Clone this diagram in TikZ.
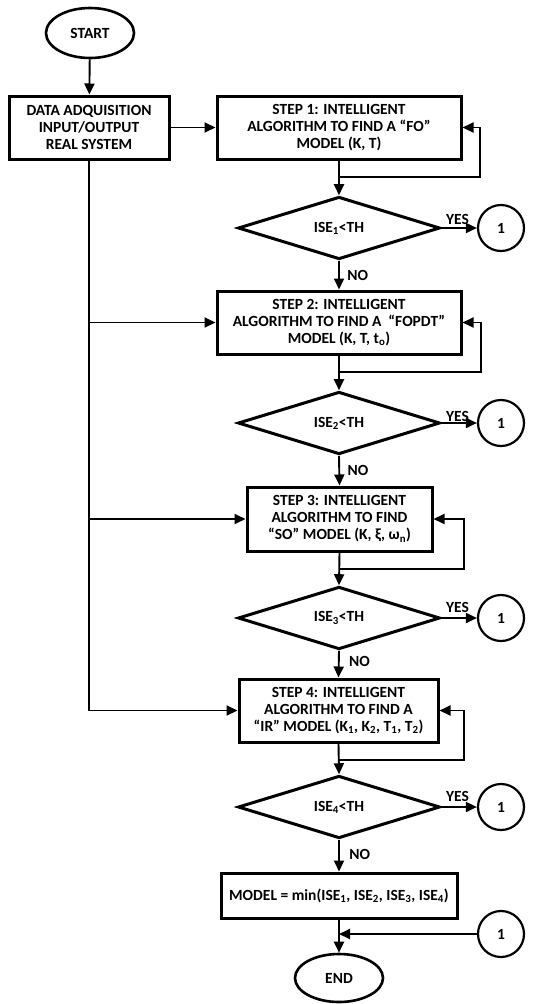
\documentclass[tikz,border=0pt]{standalone}
\usepackage{fontspec}
\setmainfont{Carlito}
\usetikzlibrary{shapes.geometric,arrows.meta,positioning}

\begin{document}
\begin{tikzpicture}
  [
    x=1pt, y=1pt,
    font=\fontsize{15.5}{17}\selectfont\bfseries,
    terminalnode/.style={ellipse, draw, line width=2.6pt, minimum width=88pt, minimum height=50pt, inner sep=0pt},
    rectanglenode_step/.style={rectangle, draw, line width=3pt, minimum height=63pt, align=center, inner sep=2pt},
    diamondnode_check/.style={diamond, draw, line width=3pt, minimum width=202pt, minimum height=62pt, inner sep=0pt},
    roundnode_link/.style={circle, draw, line width=2.2pt, minimum size=46pt, inner sep=0pt},
    conn/.style={line width=1.9pt, -{Triangle[length=11pt,width=10pt]}},
  ]
  \useasboundingbox (0,0) rectangle (554,-1004);

  \node[terminalnode] (start) at (90,-33) {START};
  \node[rectanglenode_step, minimum width=160pt] (data) at (89,-127.5) {DATA ADQUISITION\\INPUT/OUTPUT\\REAL SYSTEM};

  \node[rectanglenode_step, minimum width=244pt] (step1) at (339,-127.5) {STEP 1: INTELLIGENT\\ALGORITHM TO FIND A “FO”\\MODEL (K, T)};
  \node[diamondnode_check] (check1) at (339,-228) {ISE\textsubscript{1}<TH};
  \node[roundnode_link] (link1) at (501,-228) {1};

  \node[rectanglenode_step, minimum width=244pt] (step2) at (339,-322.5) {STEP 2: INTELLIGENT\\ALGORITHM TO FIND A \ “FOPDT”\\MODEL (K, T, t\textsubscript{o})};
  \node[diamondnode_check] (check2) at (339,-423) {ISE\textsubscript{2}<TH};
  \node[roundnode_link] (link2) at (501,-423) {1};

  \node[rectanglenode_step, minimum width=185pt, minimum height=64pt] (step3) at (339.5,-519) {STEP 3: INTELLIGENT\\ALGORITHM TO FIND\\“SO” MODEL (K, ξ, ω\textsubscript{n})};
  \node[diamondnode_check] (check3) at (339,-618) {ISE\textsubscript{3}<TH};
  \node[roundnode_link] (link3) at (501,-618) {1};

  \node[rectanglenode_step, minimum width=199pt] (step4) at (338.5,-710.5) {STEP 4: INTELLIGENT\\ALGORITHM TO FIND A\\“IR” MODEL (K\textsubscript{1}, K\textsubscript{2}, T\textsubscript{1}, T\textsubscript{2})};
  \node[diamondnode_check] (check4) at (339,-807) {ISE\textsubscript{4}<TH};
  \node[roundnode_link] (link4) at (501,-807) {1};

  \node[rectanglenode_step, minimum width=236pt, minimum height=45pt] (model) at (339,-895.5) {MODEL = min(ISE\textsubscript{1}, ISE\textsubscript{2}, ISE\textsubscript{3}, ISE\textsubscript{4})};
  \node[roundnode_link] (link5) at (501,-934) {1};
  \node[terminalnode, minimum height=48pt] (end) at (339,-978) {END};

  % loop corners
  \coordinate (loop1) at (480,-177);
  \coordinate (loop2) at (481,-372);
  \coordinate (loop3) at (464,-569);
  \coordinate (loop4) at (464,-760);

  \draw[conn] (start) -- (data);
  \draw[conn] (data) -- (step1);
  \draw[conn] (data.south) |- (step4.west);
  \draw[conn] (data.south |- step2.west) -- (step2.west);
  \draw[conn] (data.south |- step3.west) -- (step3.west);

  \draw[conn] (step1.south) -- (check1.north);
  \draw[conn] (step1.south |- loop1) -- (loop1) |- (step1.east);
  \draw[conn] (check1.east) -- node[above, pos=0.45, yshift=-1pt] {YES} (link1);
  \draw[conn] (check1.south) -- node[right, xshift=4pt] {NO} (step2.north);

  \draw[conn] (step2.south) -- (check2.north);
  \draw[conn] (step2.south |- loop2) -- (loop2) |- (step2.east);
  \draw[conn] (check2.east) -- node[above, pos=0.45, yshift=-3pt] {YES} (link2);
  \draw[conn] (check2.south) -- node[right, xshift=4pt] {NO} (step3.north);

  \draw[conn] (step3.south) -- (check3.north);
  \draw[conn] (step3.south |- loop3) -- (loop3) |- (step3.east);
  \draw[conn] (check3.east) -- node[above, pos=0.45, yshift=1pt] {YES} (link3);
  \draw[conn] (check3.south) -- node[right, xshift=6pt, yshift=3pt] {NO} (step4.north);

  \draw[conn] (step4.south) -- (check4.north);
  \draw[conn] (step4.south |- loop4) -- (loop4) |- (step4.east);
  \draw[conn] (check4.east) -- node[above, pos=0.45, yshift=1pt] {YES} (link4);
  \draw[conn] (check4.south) -- node[right, xshift=6pt, yshift=1pt] {NO} (model.north);

  \draw[conn] (model.south) -- (end.north);
  \draw[conn] (link5.west) -- (model.south |- link5);
\end{tikzpicture}
\end{document}
